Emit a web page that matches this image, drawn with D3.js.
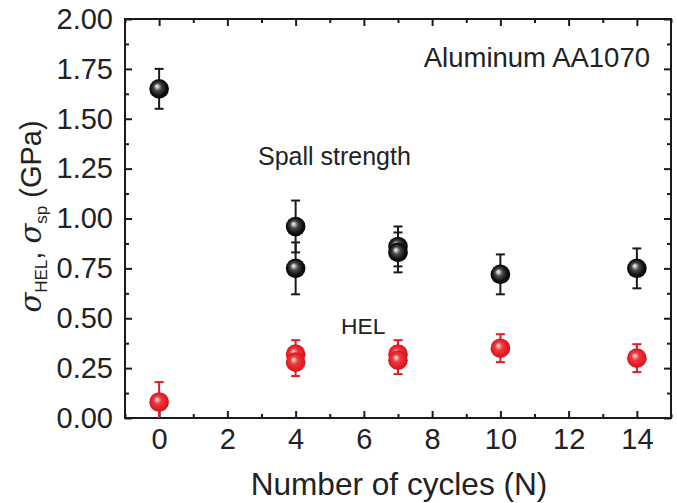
<!DOCTYPE html>
<html>
<head>
<meta charset="utf-8">
<script src="https://cdn.jsdelivr.net/npm/d3@7"></script>
<style>
  html, body { margin: 0; padding: 0; background: #fff; }
  svg { display: block; font-family: "Liberation Sans", Arial, sans-serif; }
</style>
</head>
<body>
<svg id="chart" width="677" height="503"></svg>
<script>
// ---- data ----
const spallCycles = [0, 4, 4, 7, 7, 10, 14];
const spallValues = [1.65, 0.96, 0.75, 0.86, 0.83, 0.72, 0.75];
const spallErrors = [0.10, 0.13, 0.13, 0.10, 0.10, 0.10, 0.10];

const helCycles = [0, 4, 4, 7, 7, 10, 14];
const helValues = [0.08, 0.32, 0.28, 0.32, 0.29, 0.35, 0.30];
const helErrors = [0.10, 0.07, 0.07, 0.07, 0.07, 0.07, 0.07];

const xTicks = [0, 2, 4, 6, 8, 10, 12, 14];
const xMinorTicks = [-1, 1, 3, 5, 7, 9, 11, 13, 15];
const yTicks = [0, 0.25, 0.5, 0.75, 1.0, 1.25, 1.5, 1.75, 2.0];
const yMinorTicks = [0.125, 0.375, 0.625, 0.875, 1.125, 1.375, 1.625, 1.875];

const xDomain = [-1, 15];
const yDomain = [0, 2];

// ---- layout ----
const L = 125, R = 671, T = 19, B = 418;
const svg = d3.select("#chart");
const x = d3.scaleLinear().domain(xDomain).range([L, R]);
const y = d3.scaleLinear().domain(yDomain).range([B, T]);

const defs = svg.append("defs");
defs.append("clipPath").attr("id", "plotclip")
  .append("rect").attr("x", L).attr("y", T).attr("width", R - L).attr("height", B - T);

function sphere(id, stops) {
  const g = defs.append("radialGradient").attr("id", id)
    .attr("cx", "50%").attr("cy", "50%").attr("r", "55%")
    .attr("fx", "38%").attr("fy", "36%");
  stops.forEach(s => g.append("stop").attr("offset", s[0]).attr("stop-color", s[1]));
}
sphere("gBlack", [["0%", "#ffffff"], ["12%", "#c8c8c8"], ["35%", "#4a4a4a"], ["70%", "#111"], ["100%", "#000"]]);
sphere("gRed", [["0%", "#ffffff"], ["12%", "#f7b0b0"], ["35%", "#ee3a40"], ["75%", "#e31b23"], ["100%", "#c8101a"]]);

// ---- axes (ticks inward, mirrored) ----
const tickColor = "#1a1a1a";
function styleAxis(g) {
  g.select(".domain").remove();
  g.selectAll(".tick line").attr("stroke", tickColor).attr("stroke-width", 2);
  g.selectAll(".tick text").attr("fill", "#222").style("font-size", "29px")
    .style("font-family", '"Liberation Sans", Arial, sans-serif');
}
// bottom
svg.append("g").attr("transform", `translate(0,${B})`)
  .call(d3.axisBottom(x).tickValues(xTicks).tickSize(-7).tickPadding(14).tickFormat(d3.format("d")))
  .call(styleAxis)
  .call(g => g.selectAll(".tick text").attr("dy", "0.71em").attr("y", 10));
svg.append("g").attr("transform", `translate(0,${B})`)
  .call(d3.axisBottom(x).tickValues(xMinorTicks).tickSize(-4).tickFormat(""))
  .call(styleAxis);
// top
svg.append("g").attr("transform", `translate(0,${T})`)
  .call(d3.axisTop(x).tickValues(xTicks).tickSize(-7).tickFormat(""))
  .call(styleAxis);
svg.append("g").attr("transform", `translate(0,${T})`)
  .call(d3.axisTop(x).tickValues(xMinorTicks).tickSize(-4).tickFormat(""))
  .call(styleAxis);
// left
svg.append("g").attr("transform", `translate(${L},0)`)
  .call(d3.axisLeft(y).tickValues(yTicks).tickSize(-7).tickPadding(19).tickFormat(d3.format(".2f")))
  .call(styleAxis)
  .call(g => g.selectAll(".tick text").attr("x", -12));
svg.append("g").attr("transform", `translate(${L},0)`)
  .call(d3.axisLeft(y).tickValues(yMinorTicks).tickSize(-4).tickFormat(""))
  .call(styleAxis);
// right
svg.append("g").attr("transform", `translate(${R},0)`)
  .call(d3.axisRight(y).tickValues(yTicks).tickSize(-7).tickFormat(""))
  .call(styleAxis);
svg.append("g").attr("transform", `translate(${R},0)`)
  .call(d3.axisRight(y).tickValues(yMinorTicks).tickSize(-4).tickFormat(""))
  .call(styleAxis);

// frame
svg.append("rect").attr("x", L).attr("y", T).attr("width", R - L).attr("height", B - T)
  .attr("fill", "none").attr("stroke", tickColor).attr("stroke-width", 2);

// ---- series ----
function drawSeries(cycles, values, errors, color, grad) {
  const data = cycles.map((c, i) => ({ c, v: values[i], e: errors[i] }));
  const g = svg.append("g").attr("clip-path", "url(#plotclip)");
  const cap = 4.5;
  const eb = g.append("g").attr("stroke", color).attr("stroke-width", 2).attr("fill", "none");
  data.forEach(d => {
    const cx = x(d.c), y1 = y(d.v + d.e), y0 = y(d.v - d.e);
    eb.append("line").attr("x1", cx).attr("x2", cx).attr("y1", y1).attr("y2", y0);
    eb.append("line").attr("x1", cx - cap).attr("x2", cx + cap).attr("y1", y1).attr("y2", y1);
    eb.append("line").attr("x1", cx - cap).attr("x2", cx + cap).attr("y1", y0).attr("y2", y0);
  });
  g.selectAll("circle.pt").data(data).join("circle").attr("class", "pt")
    .attr("cx", d => x(d.c)).attr("cy", d => y(d.v)).attr("r", 9.8)
    .attr("fill", `url(#${grad})`);
}
drawSeries(spallCycles, spallValues, spallErrors, "#1a1a1a", "gBlack");
drawSeries(helCycles, helValues, helErrors, "#e31b23", "gRed");

// ---- annotations ----
svg.append("text").attr("x", 650).attr("y", 66.5).attr("text-anchor", "end")
  .attr("fill", "#222").style("font-size", "27.5px").text("Aluminum AA1070");
svg.append("text").attr("x", 258).attr("y", 165).attr("fill", "#222")
  .style("font-size", "25px").text("Spall strength");
svg.append("text").attr("x", 341).attr("y", 334).attr("fill", "#222")
  .style("font-size", "22.8px").text("HEL");

// ---- axis titles ----
svg.append("text").attr("x", (L + R) / 2 + 1).attr("y", 495).attr("text-anchor", "middle")
  .attr("fill", "#222").style("font-size", "31.6px").text("Number of cycles (N)");

const yt = svg.append("text").attr("transform", `translate(41,${(T + B) / 2 - 2}) rotate(-90)`)
  .attr("text-anchor", "middle").attr("fill", "#222").style("font-size", "29px");
yt.append("tspan").style("font-style", "italic").style("font-family", '"DejaVu Serif", serif').text("σ");
yt.append("tspan").attr("dy", 6).style("font-size", "17px").text("HEL");
yt.append("tspan").attr("dy", -6).text(", ");
yt.append("tspan").style("font-style", "italic").style("font-family", '"DejaVu Serif", serif').text("σ");
yt.append("tspan").attr("dy", 6).style("font-size", "17px").text("sp");
yt.append("tspan").attr("dy", -6).text(" (GPa)");
</script>
</body>
</html>
